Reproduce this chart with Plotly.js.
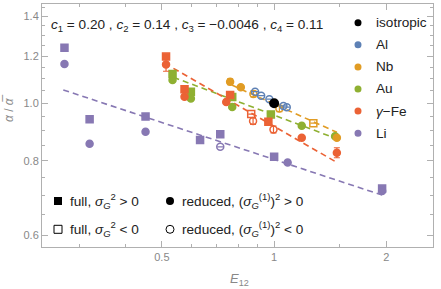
<!DOCTYPE html>
<html><head><meta charset="utf-8">
<script src="https://cdn.plot.ly/plotly-3.0.1.min.js"></script>
<style>html,body{margin:0;padding:0;background:#fff}#chart{width:441px;height:289px}</style>
</head><body><div id="chart"></div>
<script>
// ---- data ----
const materials = ['isotropic','Al','Nb','Au','γ-Fe','Li'];
const legendLabels = ['isotropic','Al','Nb','Au','<i>γ</i>−Fe','Li'];
const coefIndex = ['1','2','3','4'];
const coefValues = ['0.20','0.14','−0.0046','0.11'];

// kind: F+ full σG²>0, F- full σG²<0, R+ reduced >0, R- reduced <0
const isoX = [1.0];
const isoY = [1.0];

const alX = [0.889,0.923,0.971,1.059,1.081];
const alY = [1.046,1.030,1.016,0.990,0.985];
const alKind = ['R-','R-','R-','R-','R-'];
const alErr = [0,0,0,0,0];

const nbX = [0.762,0.814,0.880,1.033,1.274,1.473];
const nbY = [1.087,1.064,1.037,0.980,0.926,0.875];
const nbKind = ['R+','R+','R-','R-','F-','R+'];
const nbErr = [0.012,0,0.012,0.012,0,0];

const auX = [0.534,0.534,0.598,0.598,0.772,0.772,0.980,1.186,1.457];
const auY = [1.120,1.094,1.046,1.019,1.025,0.986,0.958,0.917,0.880];
const auKind = ['F+','R+','F+','R+','F+','R+','F+','R+','R+'];
const auErr = [0,0,0,0,0,0,0,0,0];

const feX = [0.513,0.513,0.575,0.575,0.762,0.744,0.868,0.878,0.965,0.996,1.186,1.473];
const feY = [1.198,1.162,1.056,1.026,1.033,1.005,0.959,0.934,0.931,0.904,0.875,0.826];
const feKind = ['F+','R+','F+','R+','F+','R+','F-','R-','F+','R-','R+','R+'];
const feErr = [0,0.03,0,0,0.012,0,0,0.012,0,0.012,0,0.016];

const liX = [0.274,0.274,0.320,0.320,0.452,0.452,0.633,0.717,0.717,1.00,1.087,1.948,1.948];
const liY = [1.240,1.164,0.940,0.855,0.950,0.896,0.868,0.887,0.845,0.813,0.795,0.719,0.712];
const liKind = ['F+','R+','F+','R+','F+','R+','F+','F+','R-','F+','R+','F+','R+'];
const liErr = [0,0,0,0,0,0,0,0,0,0,0,0,0];

// fitted power-law lines (end points)
const liFitX = [0.272,1.948], liFitY = [1.053,0.701];
const feFitX = [0.537,1.475], feFitY = [1.145,0.795];
const auFitX = [0.537,1.457], auFitY = [1.106,0.874];
const nbFitX = [0.770,1.473], nbFitY = [1.073,0.894];

const xTickVals = [0.5,1,2];
const xTickText = ['0.5','1','2'];
const xMinor = [0.3,0.4,0.6,0.7,0.8,0.9,1.5];
const yTickVals = [0.6,0.8,1.0,1.2,1.4];
const yTickText = ['0.6','0.8','1.0','1.2','1.4'];
const yMinor = [0.65,0.7,0.75,0.85,0.9,0.95,1.05,1.1,1.15,1.25,1.3,1.35,1.45];

const legendKinds = ['F+','R+','F-','R-'];
const legendKindText = [
  'full, <i>σ<sub>G</sub></i><sup>2</sup> > 0',
  'reduced, (<i>σ<sub>G</sub></i><sup>(1)</sup>)<sup>2</sup> > 0',
  'full, <i>σ<sub>G</sub></i><sup>2</sup> < 0',
  'reduced, (<i>σ<sub>G</sub></i><sup>(1)</sup>)<sup>2</sup> < 0'
];

// ---- styles ----
const colors = {'isotropic':'#000000','Al':'#5e81b5','Nb':'#e19c24','Au':'#8fb032','γ-Fe':'#eb6235','Li':'#8778b3'};
const symbolFor = {'F+':'square','F-':'square-open','R+':'circle','R-':'circle-open'};
const FONT = 'Liberation Sans, Arial, sans-serif';
const TXT = 13.6;

const traces = [];
function fit(x,y,c){
  traces.push({x:x,y:y,type:'scatter',mode:'lines',line:{color:c,width:1.6,dash:'6px,4px'},hoverinfo:'skip'});
}
fit(liFitX,liFitY,colors['Li']);
fit(nbFitX,nbFitY,colors['Nb']);
fit(auFitX,auFitY,colors['Au']);
fit(feFitX,feFitY,colors['γ-Fe']);

function pts(x,y,kind,err,c){
  traces.push({x:x,y:y,type:'scatter',mode:'markers',
    marker:{color:c,size:7,symbol:kind.map(k=>symbolFor[k]),line:{color:c,width:1.5}},
    error_y:{type:'data',array:err,visible:true,color:c,thickness:1.2,width:3}});
}
pts(liX,liY,liKind,liErr,colors['Li']);
pts(auX,auY,auKind,auErr,colors['Au']);
pts(feX,feY,feKind,feErr,colors['γ-Fe']);
pts(nbX,nbY,nbKind,nbErr,colors['Nb']);
pts(alX,alY,alKind,alErr,colors['Al']);
traces.push({x:isoX,y:isoY,type:'scatter',mode:'markers',marker:{color:'#000',size:10,symbol:'circle'}});

// layout geometry (pixels)
const L=42,R=433,T=4,B=247;
const px = x => (x-L)/(R-L);
const py = y => (B-y)/(B-T);

const annotations = [];
const shapes = [];
annotations.push({xref:'paper',yref:'paper',x:px(49),y:py(25),xanchor:'left',yanchor:'middle',showarrow:false,
  text:coefIndex.map((n,i)=>'<i>c</i><sub>'+n+'</sub> = '+coefValues[i]).join(' , '),
  font:{family:FONT,size:TXT,color:'#222'}});

materials.forEach((m,i)=>{
  const yy = 22.7 + i*22.1;
  shapes.push({type:'circle',xref:'paper',yref:'paper',xsizemode:'pixel',ysizemode:'pixel',
    xanchor:px(358),yanchor:py(yy),x0:-3.5,x1:3.5,y0:-3.5,y1:3.5,fillcolor:colors[m],line:{width:0}});
  annotations.push({xref:'paper',yref:'paper',x:px(374),y:py(yy),xanchor:'left',yanchor:'middle',showarrow:false,
    text:legendLabels[i],font:{family:FONT,size:TXT,color:'#222'}});
});

legendKinds.forEach((k,i)=>{
  const col = i%2, row = Math.floor(i/2);
  const mx = col===0?58:170, tx = col===0?68:180;
  const yy = row===0?201:229.3;
  const filled = k[1]==='+';
  shapes.push({type:k[0]==='F'?'rect':'circle',xref:'paper',yref:'paper',xsizemode:'pixel',ysizemode:'pixel',
    xanchor:px(mx),yanchor:py(yy),x0:-4,x1:4,y0:-4,y1:4,
    fillcolor:filled?'#000':'rgba(0,0,0,0)',line:{color:'#000',width:filled?0:1}});
  annotations.push({xref:'paper',yref:'paper',x:px(tx),y:py(yy),xanchor:'left',yanchor:'middle',showarrow:false,
    text:legendKindText[i],font:{family:FONT,size:TXT,color:'#222'}});
});

annotations.push({xref:'paper',yref:'paper',x:px(239),y:py(279),xanchor:'center',yanchor:'middle',showarrow:false,
  text:'<i>E</i><sub>12</sub>',font:{family:FONT,size:13,color:'#888'}});
annotations.push({xref:'paper',yref:'paper',x:px(9),y:py(108),xanchor:'center',yanchor:'middle',showarrow:false,textangle:-90,
  text:'<i>α</i> / <i>α̅</i>',font:{family:FONT,size:12,color:'#888'}});

const axisCommon = {showline:true,mirror:'allticks',linecolor:'#b0b0b0',linewidth:1,ticks:'inside',ticklen:6,tickwidth:1,
  tickcolor:'#b0b0b0',showgrid:false,zeroline:false,tickfont:{family:FONT,size:11,color:'#888'},tickmode:'array'};

const layout = {
  width:441,height:289,margin:{l:L,r:441-R,t:T,b:289-B},
  paper_bgcolor:'#fff',plot_bgcolor:'#fff',showlegend:false,
  xaxis:Object.assign({},axisCommon,{type:'log',range:[Math.log10(0.2385),Math.log10(2.667)],
    tickvals:xTickVals,ticktext:xTickText,
    minor:{tickmode:'array',tickvals:xMinor,ticks:'inside',ticklen:3,tickcolor:'#b0b0b0'}}),
  yaxis:Object.assign({},axisCommon,{type:'log',range:[-0.2415,0.1669],
    tickvals:yTickVals,ticktext:yTickText,
    minor:{tickmode:'array',tickvals:yMinor,ticks:'inside',ticklen:3,tickcolor:'#b0b0b0'}}),
  annotations:annotations,shapes:shapes
};
Plotly.newPlot('chart',traces,layout,{staticPlot:true,displayModeBar:false});
</script></body></html>
